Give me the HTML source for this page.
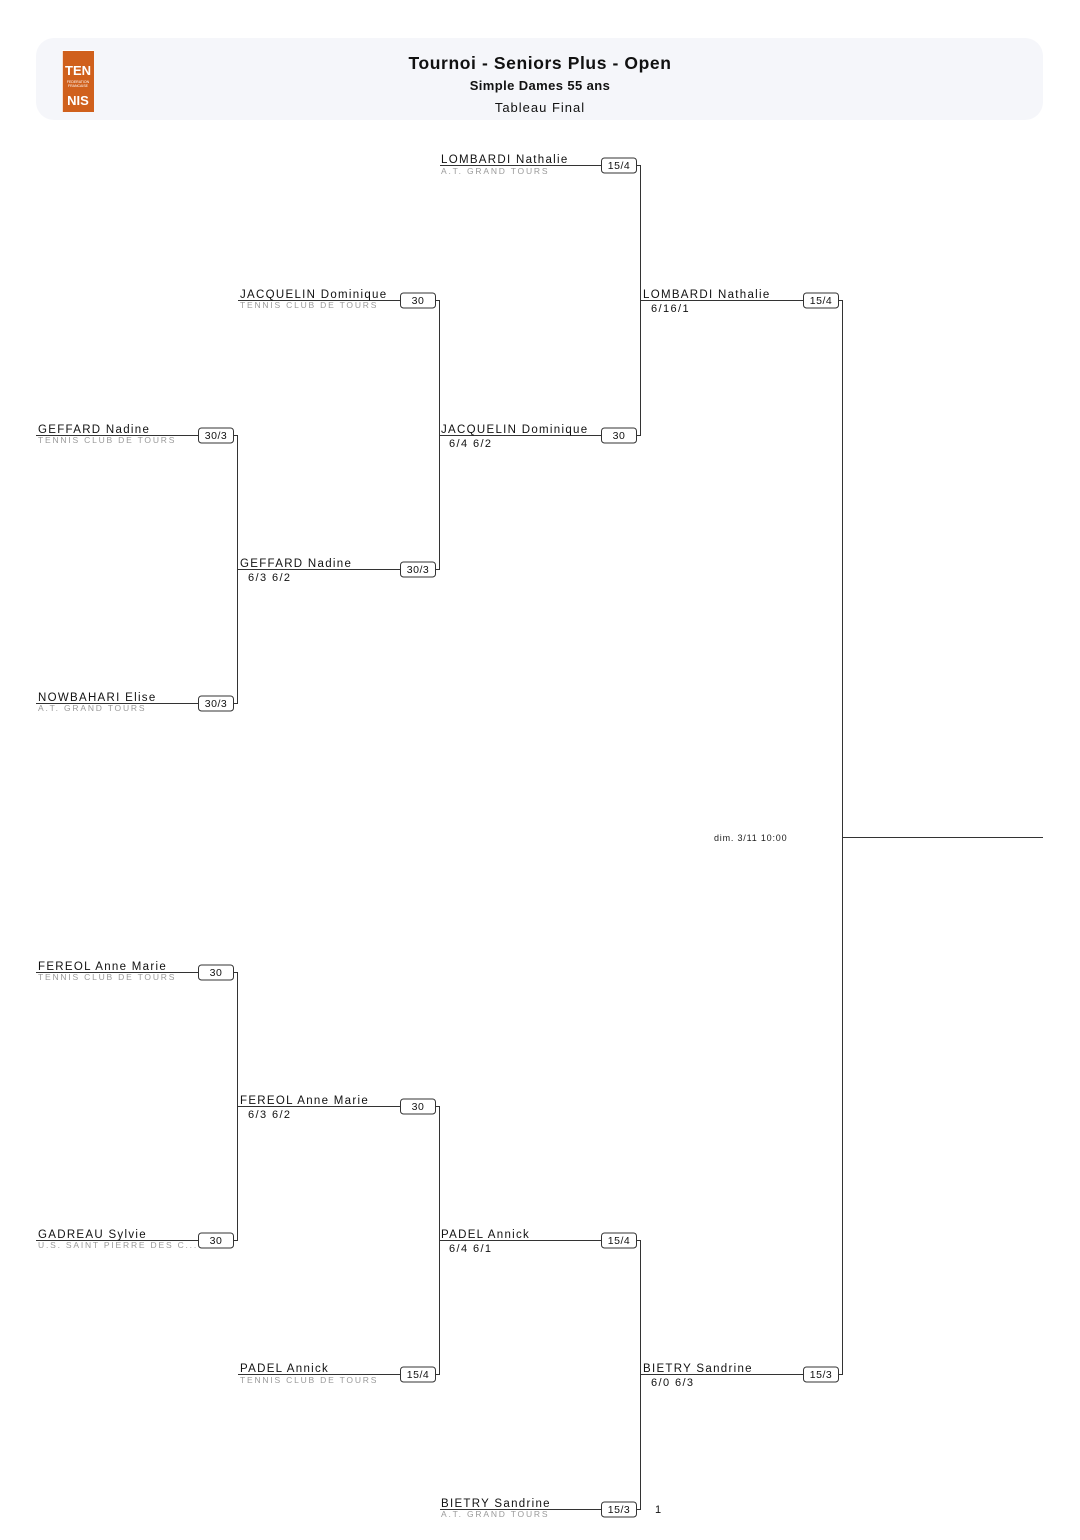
<!DOCTYPE html>
<html><head><meta charset="utf-8"><style>
html,body{margin:0;padding:0;background:#fff;}
svg{display:block;font-family:"Liberation Sans",sans-serif;}
.n{font-size:11.5px;letter-spacing:1.3px;fill:#111;}
.c{font-size:8.5px;letter-spacing:1.8px;fill:#9a9a9a;}
.s{font-size:11px;letter-spacing:1.4px;fill:#111;}
.b{font-size:10.5px;fill:#111;text-anchor:middle;letter-spacing:0.5px;}
</style></head><body>
<svg width="1080" height="1540" viewBox="0 0 1080 1540">
<rect x="36" y="38" width="1007" height="82" rx="18" fill="#f5f6fa"/>
<rect x="62" y="50" width="32" height="62" fill="#d0601c"/>
<line x1="62" y1="50.5" x2="94" y2="50.5" stroke="#fff" stroke-width="1"/>
<line x1="62.5" y1="50" x2="62.5" y2="112" stroke="#fff" stroke-width="0.8"/>
<text x="78" y="75" font-size="13" fill="#fff" text-anchor="middle" font-weight="bold" style="font-family:'Liberation Sans Narrow','Liberation Sans',sans-serif">TEN</text>
<text x="78" y="83" font-size="3.5" fill="#fff" text-anchor="middle">FEDERATION</text>
<text x="78" y="87" font-size="3.5" fill="#fff" text-anchor="middle">FRANCAISE</text>
<text x="78" y="105" font-size="13" fill="#fff" text-anchor="middle" font-weight="bold" style="font-family:'Liberation Sans Narrow','Liberation Sans',sans-serif">NIS</text>
<text x="540" y="69" font-size="17.5" text-anchor="middle" fill="#111" font-weight="bold" letter-spacing="0.6">Tournoi - Seniors Plus - Open</text>
<text x="540" y="90" font-size="13" text-anchor="middle" fill="#111" font-weight="bold" letter-spacing="0.4">Simple Dames 55 ans</text>
<text x="540" y="112" font-size="13" text-anchor="middle" fill="#111" letter-spacing="1">Tableau Final</text>

<g stroke="#333" stroke-width="1" fill="none">
<line x1="237.5" y1="435" x2="237.5" y2="703"/>
<line x1="237.5" y1="972" x2="237.5" y2="1240"/>
<line x1="439.5" y1="300" x2="439.5" y2="569"/>
<line x1="439.5" y1="1106" x2="439.5" y2="1374"/>
<line x1="640.5" y1="165" x2="640.5" y2="435"/>
<line x1="640.5" y1="1240" x2="640.5" y2="1509"/>
<line x1="842.5" y1="300" x2="842.5" y2="1374"/>
<line x1="842" y1="837.5" x2="1043" y2="837.5"/>
</g>

<g stroke="#333" stroke-width="1" fill="#fff">
<line x1="36" y1="435.5" x2="198" y2="435.5"/><line x1="234" y1="435.5" x2="238" y2="435.5"/><rect x="198.5" y="428" width="35" height="15" rx="3"/>
<line x1="36" y1="703.5" x2="198" y2="703.5"/><line x1="234" y1="703.5" x2="238" y2="703.5"/><rect x="198.5" y="696" width="35" height="15" rx="3"/>
<line x1="36" y1="972.5" x2="198" y2="972.5"/><line x1="234" y1="972.5" x2="238" y2="972.5"/><rect x="198.5" y="965" width="35" height="15" rx="3"/>
<line x1="36" y1="1240.5" x2="198" y2="1240.5"/><line x1="234" y1="1240.5" x2="238" y2="1240.5"/><rect x="198.5" y="1233" width="35" height="15" rx="3"/>
<line x1="238" y1="300.5" x2="400" y2="300.5"/><line x1="436" y1="300.5" x2="440" y2="300.5"/><rect x="400.5" y="293" width="35" height="15" rx="3"/>
<line x1="238" y1="569.5" x2="400" y2="569.5"/><line x1="436" y1="569.5" x2="440" y2="569.5"/><rect x="400.5" y="562" width="35" height="15" rx="3"/>
<line x1="238" y1="1106.5" x2="400" y2="1106.5"/><line x1="436" y1="1106.5" x2="440" y2="1106.5"/><rect x="400.5" y="1099" width="35" height="15" rx="3"/>
<line x1="238" y1="1374.5" x2="400" y2="1374.5"/><line x1="436" y1="1374.5" x2="440" y2="1374.5"/><rect x="400.5" y="1367" width="35" height="15" rx="3"/>
<line x1="440" y1="165.5" x2="601" y2="165.5"/><line x1="637" y1="165.5" x2="641" y2="165.5"/><rect x="601.5" y="158" width="35" height="15" rx="3"/>
<line x1="440" y1="435.5" x2="601" y2="435.5"/><line x1="637" y1="435.5" x2="641" y2="435.5"/><rect x="601.5" y="428" width="35" height="15" rx="3"/>
<line x1="440" y1="1240.5" x2="601" y2="1240.5"/><line x1="637" y1="1240.5" x2="641" y2="1240.5"/><rect x="601.5" y="1233" width="35" height="15" rx="3"/>
<line x1="440" y1="1509.5" x2="601" y2="1509.5"/><line x1="637" y1="1509.5" x2="641" y2="1509.5"/><rect x="601.5" y="1502" width="35" height="15" rx="3"/>
<line x1="641" y1="300.5" x2="803" y2="300.5"/><line x1="839" y1="300.5" x2="843" y2="300.5"/><rect x="803.5" y="293" width="35" height="15" rx="3"/>
<line x1="641" y1="1374.5" x2="803" y2="1374.5"/><line x1="839" y1="1374.5" x2="843" y2="1374.5"/><rect x="803.5" y="1367" width="35" height="15" rx="3"/>
</g>

<text class="n" x="38" y="433">GEFFARD Nadine</text><text class="c" x="38" y="443">TENNIS CLUB DE TOURS</text><text class="b" x="216" y="439">30/3</text>
<text class="n" x="38" y="701">NOWBAHARI Elise</text><text class="c" x="38" y="711">A.T. GRAND TOURS</text><text class="b" x="216" y="707">30/3</text>
<text class="n" x="38" y="970">FEREOL Anne Marie</text><text class="c" x="38" y="980">TENNIS CLUB DE TOURS</text><text class="b" x="216" y="976">30</text>
<text class="n" x="38" y="1238">GADREAU Sylvie</text><text class="c" x="38" y="1248">U.S. SAINT PIERRE DES C...</text><text class="b" x="216" y="1244">30</text>
<text class="n" x="240" y="298">JACQUELIN Dominique</text><text class="c" x="240" y="308">TENNIS CLUB DE TOURS</text><text class="b" x="418" y="304">30</text>
<text class="n" x="240" y="567">GEFFARD Nadine</text><text class="s" x="248" y="581">6/3 6/2</text><text class="b" x="418" y="573">30/3</text>
<text class="n" x="240" y="1104">FEREOL Anne Marie</text><text class="s" x="248" y="1118">6/3 6/2</text><text class="b" x="418" y="1110">30</text>
<text class="n" x="240" y="1372">PADEL Annick</text><text class="c" x="240" y="1383">TENNIS CLUB DE TOURS</text><text class="b" x="418" y="1378">15/4</text>
<text class="n" x="441" y="163">LOMBARDI Nathalie</text><text class="c" x="441" y="174">A.T. GRAND TOURS</text><text class="b" x="619" y="169">15/4</text>
<text class="n" x="441" y="433">JACQUELIN Dominique</text><text class="s" x="449" y="447">6/4 6/2</text><text class="b" x="619" y="439">30</text>
<text class="n" x="441" y="1238">PADEL Annick</text><text class="s" x="449" y="1252">6/4 6/1</text><text class="b" x="619" y="1244">15/4</text>
<text class="n" x="441" y="1507">BIETRY Sandrine</text><text class="c" x="441" y="1517">A.T. GRAND TOURS</text><text class="b" x="619" y="1513">15/3</text>
<text class="s" x="655" y="1513">1</text>
<text class="n" x="643" y="298">LOMBARDI Nathalie</text><text class="s" x="651" y="312">6/16/1</text><text class="b" x="821" y="304">15/4</text>
<text class="n" x="643" y="1372">BIETRY Sandrine</text><text class="s" x="651" y="1386">6/0 6/3</text><text class="b" x="821" y="1378">15/3</text>
<text x="714" y="841" font-size="9" fill="#222" letter-spacing="0.8">dim. 3/11 10:00</text>
</svg>
</body></html>
